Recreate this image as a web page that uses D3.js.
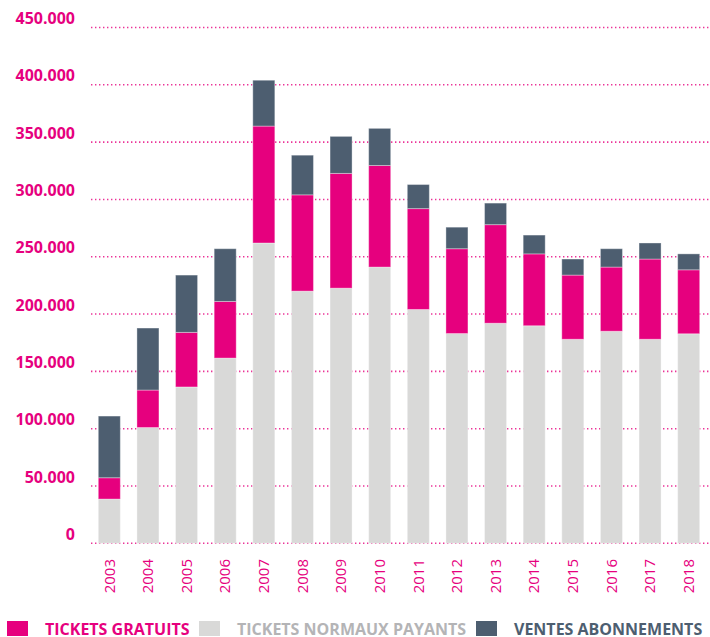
<!DOCTYPE html>
<html>
<head>
<meta charset="utf-8">
<script src="https://cdn.jsdelivr.net/npm/d3@7"></script>
<style>
  body { margin: 0; background: #fff; }
  svg { display: block; font-family: "Open Sans", sans-serif; }
</style>
</head>
<body>
<svg id="chart" width="710" height="637"></svg>
<script>
// data
var years = ["2003", "2004", "2005", "2006", "2007", "2008", "2009", "2010",
             "2011", "2012", "2013", "2014", "2015", "2016", "2017", "2018"];
var payants = [38600, 101000, 136400, 161600, 262000, 220000, 222600, 241000,
               204000, 183000, 192000, 189800, 178000, 185000, 178000, 182800];
var gratuits = [18600, 32700, 47600, 49400, 102000, 84000, 100100, 88600,
                88000, 74000, 86000, 62700, 56000, 56000, 70000, 55800];
var abonnements = [53800, 54100, 50000, 46000, 40000, 34600, 32300, 32400,
                   21000, 18800, 18800, 16400, 14000, 16000, 14000, 13900];
var yTicks = [0, 50000, 100000, 150000, 200000, 250000, 300000, 350000, 400000, 450000];

var seriesKeys = ["payants", "gratuits", "abonnements"];
var colors = { payants: "#d9d9d8", gratuits: "#e6007e", abonnements: "#4d5e70" };

var legendItems = [
    { key: "gratuits", label: "TICKETS GRATUITS", text: "#e6007e", x: 7 },
    { key: "payants", label: "TICKETS NORMAUX PAYANTS", text: "#b4b4b6", x: 199 },
    { key: "abonnements", label: "VENTES ABONNEMENTS", text: "#4d5e70", x: 476 }
];

var rows = years.map(function(y, i) {
    return { year: y, payants: payants[i], gratuits: gratuits[i], abonnements: abonnements[i] };
});

var svg = d3.select("#chart");

var x = d3.scaleBand()
    .domain(years)
    .range([90, 708])
    .paddingInner(0.43)
    .paddingOuter(0.215);

var y = d3.scaleLinear()
    .domain([0, 450000])
    .range([543.3, 27.5]);

// Grid lines (dotted pink)
svg.append("g")
    .selectAll("line")
    .data(yTicks)
    .join("line")
    .attr("x1", 91)
    .attr("x2", 710)
    .attr("y1", function(d) { return y(d); })
    .attr("y2", function(d) { return y(d); })
    .attr("stroke", "#e6007e")
    .attr("stroke-opacity", 0.8)
    .attr("stroke-width", 1.6)
    .attr("stroke-dasharray", "1.4,2.6");

// Y labels
var fmt = function(d) { return d === 0 ? "0" : d3.format(",")(d).replace(/,/g, "."); };
svg.append("g")
    .selectAll("text")
    .data(yTicks)
    .join("text")
    .attr("x", 75)
    .attr("y", function(d) { return y(d) - 9; })
    .attr("dy", "0.35em")
    .attr("text-anchor", "end")
    .attr("fill", "#e6007e")
    .attr("font-weight", 700)
    .attr("font-size", 16)
    .text(fmt);

// Stacked bars
var stack = d3.stack().keys(seriesKeys);
var layers = stack(rows);

svg.append("g")
    .selectAll("g")
    .data(layers)
    .join("g")
    .attr("fill", function(d) { return colors[d.key]; })
    .selectAll("rect")
    .data(function(d) { return d; })
    .join("rect")
    .attr("x", function(d) { return x(d.data.year); })
    .attr("width", x.bandwidth())
    .attr("y", function(d) { return y(d[1]); })
    .attr("height", function(d) { return y(d[0]) - y(d[1]); })
    .attr("stroke", "#ffffff")
    .attr("stroke-opacity", 0.35)
    .attr("stroke-width", 1);

// Year labels (rotated)
svg.append("g")
    .selectAll("text")
    .data(years)
    .join("text")
    .attr("transform", function(d) {
        return "translate(" + (x(d) + x.bandwidth() / 2) + ",559) rotate(-90)";
    })
    .attr("dy", "0.35em")
    .attr("text-anchor", "end")
    .attr("fill", "#e6007e")
    .attr("font-size", 15)
    .text(function(d) { return d; });

// Legend
var legend = svg.append("g")
    .selectAll("g")
    .data(legendItems)
    .join("g")
    .attr("transform", function(d) { return "translate(" + d.x + ",621)"; });

legend.append("rect")
    .attr("width", 21)
    .attr("height", 15)
    .attr("fill", function(d) { return colors[d.key]; });

legend.append("text")
    .attr("x", 38)
    .attr("y", 14)
    .attr("fill", function(d) { return d.text; })
    .attr("font-weight", 700)
    .attr("font-size", 16)
    .text(function(d) { return d.label; });
</script>
</body>
</html>
